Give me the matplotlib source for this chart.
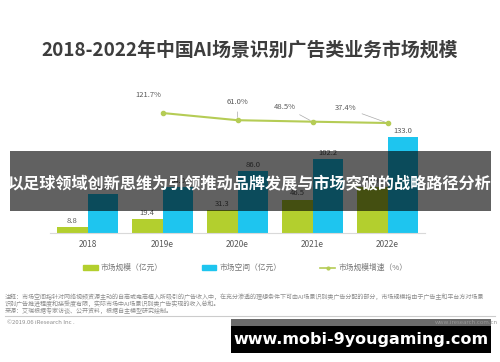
import numpy as np
import matplotlib.pyplot as plt
from matplotlib.patches import Rectangle, Patch
from matplotlib.lines import Line2D

plt.rcParams['font.family'] = ['Noto Sans CJK SC', 'DejaVu Sans']

# data
years = ['2018', '2019e', '2020e', '2021e', '2022e']
market_size = [8.8, 19.4, 31.3, 46.5, 63.9]
market_space = [54.0, 64.0, 86.0, 102.2, 133.0]
growth_years = ['2019e', '2020e', '2021e', '2022e']
growth_rate = [121.7, 61.0, 48.5, 37.4]

green = '#b3cf2e'
cyan = '#1ec5ef'
line_green = '#b5cc55'
text_grey = '#595959'

W, H = 500, 362
fig = plt.figure(figsize=(W / 100, H / 100), dpi=100)
fig.patch.set_facecolor('white')

def fx(px):
    return px / W

def fy(py):
    return 1 - py / H

# title
fig.text(0.5, fy(50), '2018-2022年中国AI场景识别广告类业务市场规模', ha='center', va='center',
         fontsize=13.6, fontweight='bold', color='#3d3d3d')

##bars
ax = fig.add_axes([fx(50), fy(233), fx(375), (233 - 125) / H])
x = np.arange(len(years))
w = 0.41
b1 = ax.bar(x - w / 2, market_size, w, color=green)
b2 = ax.bar(x + w / 2, market_space, w, color=cyan)
ax.set_xlim(-0.5, len(years) - 0.5)
ax.set_ylim(0, 150)
for bars in (b1, b2):
    for r in bars:
        ax.text(r.get_x() + r.get_width() / 2, r.get_height() + 3, f'{r.get_height():.1f}',
                ha='center', va='bottom', fontsize=5.5, color=text_grey)
ax.set_xticks(x)
ax.set_xticklabels(years, fontsize=6, color=text_grey)
ax.tick_params(axis='x', length=0, pad=5)
ax.set_yticks([])
for s in ['top', 'right', 'left']:
    ax.spines[s].set_visible(False)
ax.spines['bottom'].set_color('#d9d9d9')
ax.spines['bottom'].set_linewidth(0.8)
ax.patch.set_alpha(0)

##growth line
ax2 = fig.add_axes([fx(50), fy(130), fx(375), 30 / H])
gx = [years.index(g) for g in growth_years]
ax2.plot(gx, growth_rate, color=line_green, lw=1.5, marker='o', ms=3)
ax2.set_xlim(-0.5, len(years) - 0.5)
ax2.set_ylim(-21.6, 231.4)
ax2.axis('off')
offsets = [(-10, 10), (0, 10), (-20, 8), (-30, 8)]
for xi, v, off in zip(gx, growth_rate, offsets):
    ax2.annotate(f'{v:.1f}%', (xi, v), xytext=off, textcoords='offset points',
                 ha='center', va='bottom', fontsize=5.5, color=text_grey,
                 arrowprops=dict(arrowstyle='-', color='#aaaaaa', lw=0.5) if off[0] != -10 else None)

# legend
handles = [Patch(color=green, label='市场规模（亿元）'),
           Patch(color=cyan, label='市场空间（亿元）'),
           Line2D([], [], color=line_green, marker='o', ms=2, lw=1.2, label='市场规模增速（%）')]
leg = fig.legend(handles=handles, loc='center', bbox_to_anchor=(fx(245), fy(268)), ncol=3,
                 frameon=False, fontsize=5.6, handlelength=1.9, handleheight=0.5,
                 columnspacing=5.0, handletextpad=0.4)
for t in leg.get_texts():
    t.set_color('#777777')

# footnotes
note_c = '#8c8c8c'
fig.text(fx(5), fy(297), '注释：市场空间指针对网络视频资源主动的自商或电商植入所吸引的广告收入中，在充分渗透的理想条件下可由AI场景识别类广告分配的部分，市场规模指由于广告主和平台方对场景',
         fontsize=4.35, color=note_c, va='center')
fig.text(fx(5), fy(304), '识别广告推进程度和接受度有限，实际市场中AI场景识别类广告实现的收入总和。',
         fontsize=4.35, color=note_c, va='center')
fig.text(fx(5), fy(311), '来源：艾瑞根据专家访谈、公开资料，根据自主模型研究绘制。',
         fontsize=4.35, color=note_c, va='center')
fig.add_artist(Line2D([fx(5), fx(495)], [fy(315.5), fy(315.5)], color='#cccccc', lw=0.8))
fig.text(fx(7), fy(323), '©2019.06 iResearch Inc .', fontsize=4.3, color=note_c, va='center')

# watermark box
fig.add_artist(Rectangle((fx(231), fy(326)), fx(260), 7 / H, color='#6b6b6b', lw=0))
fig.add_artist(Rectangle((fx(231), fy(353)), fx(260), 27 / H, color='black', lw=0))
fig.text(fx(498), fy(322.5), 'www.iresearch.com.cn', fontsize=4.3, color='#9a9a9a', ha='right', va='center')
fig.text(fx(361), fy(339.5), 'www.mobi-9yougaming.com', fontsize=11.5, fontweight='bold',
         color='white', ha='center', va='center', family='DejaVu Sans')

# dark banner over the chart
fig.add_artist(Rectangle((fx(10), fy(211)), fx(481), 60 / H, color='black', alpha=0.62, lw=0))
fig.text(fx(250), fy(184), '以足球领域创新思维为引领推动品牌发展与市场突破的战略路径分析',
         fontsize=11.6, fontweight='bold', color='white', ha='center', va='center')

plt.savefig('out.png', dpi=100)
